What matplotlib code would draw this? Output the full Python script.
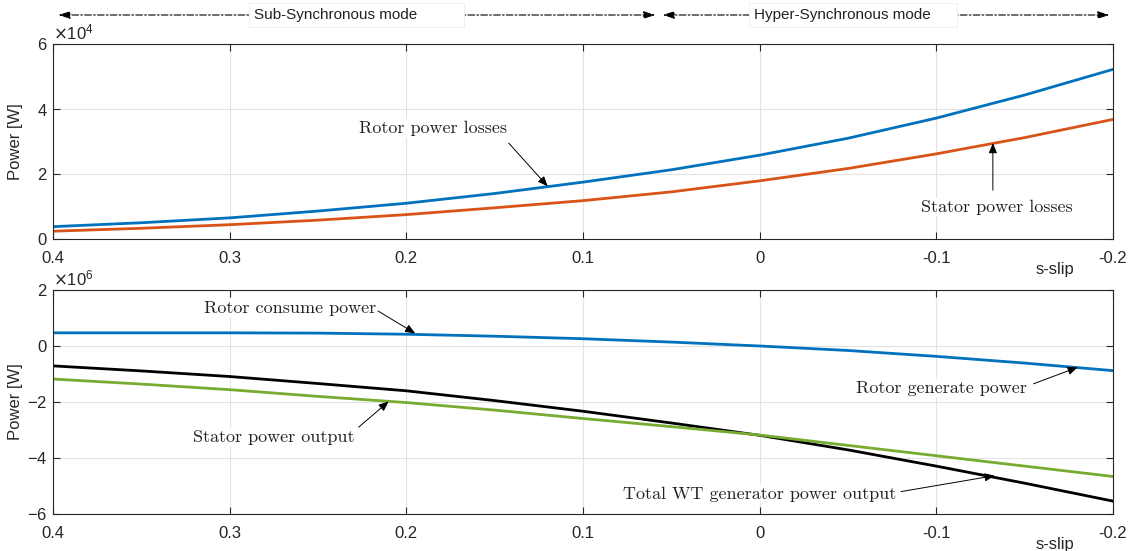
#!/usr/bin/env python3
"""
Rotor / stator power vs slip for the WT generator (two stacked panels)
"""
import matplotlib
matplotlib.use("Agg")
import matplotlib.pyplot as plt
from matplotlib.ticker import ScalarFormatter, FixedLocator, FixedFormatter

# slip values
slip = [0.4, 0.35, 0.3, 0.25, 0.2, 0.15, 0.1, 0.05, 0.0, -0.05, -0.1, -0.15, -0.2]

# top panel, W
rotor_losses = [3800, 5000, 6500, 8600, 11000, 14000, 17500, 21300, 25800,
                31000, 37200, 44300, 52200]
stator_losses = [2400, 3300, 4400, 5800, 7500, 9600, 11800, 14500, 17900,
                 21700, 26200, 31200, 36800]

# bottom panel, W
rotor_power = [0.47e6, 0.47e6, 0.47e6, 0.46e6, 0.42e6, 0.35e6, 0.26e6, 0.14e6,
               0.0, -0.16e6, -0.37e6, -0.61e6, -0.88e6]
stator_power = [-1.18e6, -1.36e6, -1.56e6, -1.80e6, -2.02e6, -2.29e6, -2.59e6,
                -2.88e6, -3.18e6, -3.55e6, -3.92e6, -4.29e6, -4.66e6]
total_power = [-0.71e6, -0.89e6, -1.09e6, -1.34e6, -1.60e6, -1.95e6, -2.33e6,
               -2.75e6, -3.19e6, -3.71e6, -4.29e6, -4.90e6, -5.54e6]

xticks = [0.4, 0.3, 0.2, 0.1, 0.0, -0.1, -0.2]
xtick_labels = ['0.4', '0.3', '0.2', '0.1', '0', '-0.1', '-0.2']
top_yticks = [0, 2e4, 4e4, 6e4]
bot_yticks = [-6e6, -4e6, -2e6, 0, 2e6]

BLUE = '#0072BD'
ORANGE = '#D95319'
GREEN = '#77AC30'
AX_COLOR = '#262626'

plt.rcParams['font.family'] = ['Liberation Sans', 'DejaVu Sans']
plt.rcParams['axes.unicode_minus'] = False

fig = plt.figure(figsize=(11.37, 5.51), dpi=100)
W, H = 1137.0, 551.0
ax1 = fig.add_axes([53 / W, 1 - 239 / H, 1060 / W, 195 / H])
ax2 = fig.add_axes([53 / W, 1 - 514 / H, 1060 / W, 224 / H])


def style_axis(ax, yticks, ylim, height_px):
    ax.set_xlim(0.4, -0.2)
    ax.set_ylim(*ylim)
    ax.xaxis.set_major_locator(FixedLocator(xticks))
    ax.xaxis.set_major_formatter(FixedFormatter(xtick_labels))
    ax.set_yticks(yticks)
    fmt = ScalarFormatter(useMathText=True)
    fmt.set_powerlimits((0, 0))
    ax.yaxis.set_major_formatter(fmt)
    ax.yaxis.get_offset_text().set_fontsize(12)
    ax.yaxis.get_offset_text().set_color(AX_COLOR)
    ax.tick_params(direction='in', length=5, width=0.8, labelsize=12,
                   colors=AX_COLOR, top=True, right=True, pad=4)
    ax.tick_params(axis='x', pad=9)
    ax.grid(True, color='#e3e3e3', linewidth=0.8)
    ax.set_axisbelow(True)
    for sp in ax.spines.values():
        sp.set_color(AX_COLOR)
        sp.set_linewidth(0.8)
    ax.set_ylabel('Power [W]', fontsize=12, color=AX_COLOR)
    ax.yaxis.set_label_coords(-30 / 1060, 0.5)
    ax.text(0.945, -31 / height_px, 's-slip', transform=ax.transAxes, fontsize=12,
            color=AX_COLOR, ha='center', va='center')


style_axis(ax1, top_yticks, (0, 6e4), 195)
style_axis(ax2, bot_yticks, (-6e6, 2e6), 224)

ax1.plot(slip, rotor_losses, color=BLUE, lw=2)
ax1.plot(slip, stator_losses, color=ORANGE, lw=2)

ax2.plot(slip, rotor_power, color=BLUE, lw=2)
ax2.plot(slip, total_power, color='black', lw=2)
ax2.plot(slip, stator_power, color=GREEN, lw=2)

ann_font = dict(fontfamily='cmr10', fontsize=13, color='#222222',
                ha='center', va='center',
                bbox=dict(facecolor='white', edgecolor='none', pad=1))
arrow = dict(arrowstyle='-|>,head_length=0.6,head_width=0.25', color='black',
             lw=0.7, shrinkA=0, shrinkB=0)

ax1.text(0.185, 3.4e4, 'Rotor power losses', **ann_font)
ax1.annotate('', xy=(0.12, 1.62e4), xytext=(0.142, 2.95e4), arrowprops=arrow)
ax1.text(-0.134, 0.98e4, 'Stator power losses', **ann_font)
ax1.annotate('', xy=(-0.132, 2.95e4), xytext=(-0.132, 1.5e4), arrowprops=arrow)

ax2.text(0.266, 1.36e6, 'Rotor consume power', **ann_font)
ax2.annotate('', xy=(0.195, 0.45e6), xytext=(0.216, 1.25e6), arrowprops=arrow)
ax2.text(0.275, -3.25e6, 'Stator power output', **ann_font)
ax2.annotate('', xy=(0.21, -1.98e6), xytext=(0.227, -2.9e6), arrowprops=arrow)
ax2.text(-0.103, -1.5e6, 'Rotor generate power', **ann_font)
ax2.annotate('', xy=(-0.18, -0.76e6), xytext=(-0.155, -1.35e6), arrowprops=arrow)
ax2.text(0.0, -5.29e6, 'Total WT generator power output', **ann_font)
ax2.annotate('', xy=(-0.133, -4.63e6), xytext=(-0.08, -5.2e6), arrowprops=arrow)

# mode banner above the top panel
banner_y = 1 - 15 / H
trans = ax1.get_xaxis_transform()
split = 0.057
y_ax = (banner_y * H - (H - 239)) / 195.0  # figure y -> top-axes fraction
seg_arrow = dict(arrowstyle='<|-|>,head_length=0.7,head_width=0.22', color='black',
                 lw=0.8, linestyle=(0, (6, 2, 1.5, 2)), shrinkA=0, shrinkB=0)
ax1.annotate('', xy=(0.397, y_ax), xytext=(split + 0.002, y_ax), xycoords=trans,
             textcoords=trans, arrowprops=seg_arrow, annotation_clip=False)
ax1.annotate('', xy=(split - 0.002, y_ax), xytext=(-0.198, y_ax), xycoords=trans,
             textcoords=trans, arrowprops=seg_arrow, annotation_clip=False)

banner_font = dict(fontsize=11, color='#222222', ha='left', va='center',
                   bbox=dict(facecolor='white', edgecolor='#eeeeee', lw=0.6,
                             boxstyle='square,pad=0.3'))
fig.text(254 / W, banner_y, 'Sub-Synchronous mode          ', **banner_font)
fig.text(754 / W, banner_y, 'Hyper-Synchronous mode     ', **banner_font)

fig.savefig('out.png', dpi=100)
